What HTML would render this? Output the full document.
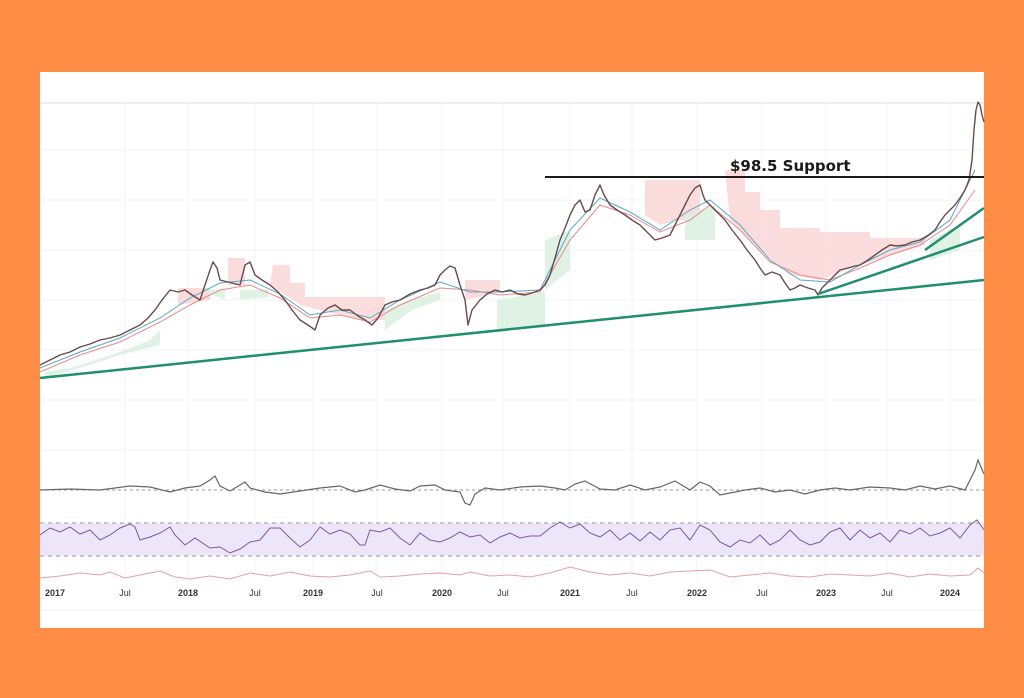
<!DOCTYPE html>
<html><head><style>
html,body{margin:0;padding:0;background:#FF8D45;}
svg{display:block}
</style></head><body>
<svg width="1024" height="698" xmlns="http://www.w3.org/2000/svg" font-family="Liberation Sans, sans-serif">
<rect width="1024" height="698" fill="#FF8D45"/>
<rect x="40" y="72" width="944" height="556" fill="#fff"/>
<line x1="40" y1="103" x2="984" y2="103" stroke="#e4e8ec" stroke-width="1.5"/>
<g stroke="#f2f3f5" stroke-width="1">
<line x1="40" y1="150" x2="984" y2="150"/><line x1="40" y1="200" x2="984" y2="200"/>
<line x1="40" y1="250" x2="984" y2="250"/><line x1="40" y1="300" x2="984" y2="300"/>
<line x1="40" y1="350" x2="984" y2="350"/><line x1="40" y1="400" x2="984" y2="400"/>
<line x1="40" y1="450" x2="984" y2="450"/>
<line x1="125" y1="103" x2="125" y2="580"/><line x1="188" y1="103" x2="188" y2="580"/>
<line x1="255" y1="103" x2="255" y2="580"/><line x1="313" y1="103" x2="313" y2="580"/>
<line x1="377" y1="103" x2="377" y2="580"/><line x1="442" y1="103" x2="442" y2="580"/>
<line x1="503" y1="103" x2="503" y2="580"/><line x1="570" y1="103" x2="570" y2="580"/>
<line x1="632" y1="103" x2="632" y2="580"/><line x1="697" y1="103" x2="697" y2="580"/>
<line x1="762" y1="103" x2="762" y2="580"/><line x1="826" y1="103" x2="826" y2="580"/>
<line x1="887" y1="103" x2="887" y2="580"/><line x1="950" y1="103" x2="950" y2="580"/>
</g>
<!-- clouds -->
<g fill="#fbd9d9" opacity="0.9">
<polygon points="178,288 210,288 210,300 178,305"/>
<polygon points="228,258 245,258 245,285 228,285"/>
<polygon points="273,265 290,265 290,283 305,283 305,297 385,297 385,320 360,320 300,305 270,285"/>
<polygon points="465,280 500,280 500,292 465,300"/>
<polygon points="645,180 700,180 700,220 680,220 660,225 645,215"/>
<polygon points="725,170 745,170 745,192 760,192 760,210 780,210 780,228 820,228 820,232 870,232 870,238 925,238 925,245 860,265 820,280 790,275 760,250 730,220"/>
</g>
<g fill="#dcf1e2" opacity="0.9">
<polygon points="45,372 70,368 90,362 120,352 150,340 160,330 160,345 120,355 80,368 45,378"/>
<polygon points="200,290 225,290 225,300 240,300 240,290 268,290 268,298 225,300"/>
<polygon points="385,310 410,300 440,292 440,300 412,310 385,330"/>
<polygon points="497,300 545,292 545,328 497,330"/>
<polygon points="545,240 570,230 570,270 545,290"/>
<polygon points="685,215 715,205 715,240 685,240"/>
<polygon points="930,240 960,225 960,250 930,260"/>
</g>
<!-- MA lines -->
<polyline fill="none" stroke="#e88a8a" stroke-width="1" points="40,372 80,355 120,342 160,322 190,305 220,290 250,285 280,298 310,318 340,315 370,322 400,305 440,288 470,290 500,295 540,292 570,240 600,205 630,215 660,232 690,220 710,205 740,230 770,262 800,275 830,280 860,268 890,255 920,245 950,225 975,190"/>
<polyline fill="none" stroke="#5aa8c8" stroke-width="1" points="40,368 80,352 120,338 160,318 190,298 220,283 250,280 280,294 310,315 340,310 370,318 400,300 440,282 470,292 500,292 540,290 570,230 600,198 630,212 660,230 690,210 710,200 740,225 770,260 800,280 830,282 860,265 890,250 920,242 950,220 975,170"/>
<!-- price -->
<polyline fill="none" stroke="#6b4a4a" stroke-width="1.4" stroke-linejoin="round" points="40,365 50,360 60,355 70,352 80,347 90,344 100,340 110,338 120,335 130,330 140,325 148,318 155,310 162,300 170,290 178,292 185,290 192,295 200,300 205,285 210,270 213,262 217,268 220,280 228,282 240,285 245,265 250,262 255,275 262,280 270,285 278,292 285,300 292,310 300,320 308,325 315,330 320,315 328,308 335,305 342,310 350,310 358,316 365,320 372,325 378,318 385,305 392,302 400,300 410,294 420,290 428,288 435,285 440,275 445,270 450,266 455,268 460,285 465,300 468,325 472,310 480,300 487,294 495,290 502,292 510,290 518,294 525,295 532,293 540,290 545,285 550,275 555,258 560,240 565,228 570,215 575,205 580,200 585,212 590,210 595,195 600,185 604,195 610,205 617,210 625,215 632,220 640,225 647,232 655,240 662,238 670,235 675,225 680,215 685,205 690,195 695,188 700,185 703,195 705,200 710,205 715,210 720,215 725,220 732,230 740,240 747,250 755,260 760,268 765,275 772,272 780,275 785,283 790,290 795,288 800,285 808,288 815,290 818,295 822,288 825,285 832,278 840,270 848,268 855,266 860,265 868,260 875,255 882,250 890,245 897,246 905,245 912,242 920,240 927,236 935,230 940,222 945,215 950,210 955,205 960,198 965,190 969,180 972,160 974,130 976,110 978,102 980,105 982,115 984,122"/>
<!-- trendlines -->
<line x1="40" y1="378" x2="984" y2="280" stroke="#1f8f6e" stroke-width="2.5"/>
<line x1="818" y1="294" x2="984" y2="237" stroke="#1f8f6e" stroke-width="2.5"/>
<line x1="925" y1="250" x2="984" y2="208" stroke="#1f8f6e" stroke-width="2.5"/>
<line x1="545" y1="177" x2="984" y2="177" stroke="#1a1a1a" stroke-width="2"/>
<text x="730" y="171" font-size="15" font-weight="bold" fill="#1a1a1a" font-family="DejaVu Sans, sans-serif">$98.5 Support</text>
<!-- oscillator -->
<line x1="40" y1="490" x2="984" y2="490" stroke="#999" stroke-width="1" stroke-dasharray="3,3"/>
<polyline fill="none" stroke="#666" stroke-width="1.2" points="40,490 70,489 100,490 130,486 150,487 170,492 185,488 200,486 210,480 215,476 220,486 230,491 240,485 245,482 250,488 265,492 280,494 300,491 320,488 340,486 355,492 365,490 380,485 395,489 410,491 420,486 435,485 445,490 460,492 465,503 470,505 475,494 485,488 500,490 520,487 540,486 555,488 565,490 575,484 585,481 600,489 615,490 630,485 645,490 660,487 675,481 690,490 700,482 710,486 720,495 730,493 745,490 760,488 775,492 790,490 805,494 820,490 835,488 850,490 870,487 890,488 905,490 920,486 935,489 950,486 965,490 975,470 978,460 984,474"/>
<!-- RSI -->
<rect x="40" y="523" width="944" height="33" fill="#ece6f8"/>
<line x1="40" y1="523" x2="984" y2="523" stroke="#999" stroke-dasharray="4,4"/>
<line x1="40" y1="556" x2="984" y2="556" stroke="#999" stroke-dasharray="4,4"/>
<polyline fill="none" stroke="#7a5aa8" stroke-width="1" points="40,535 50,528 60,532 70,527 80,534 90,530 100,540 110,535 120,528 130,524 135,527 140,540 150,537 160,533 170,527 175,535 185,545 195,538 210,548 220,547 230,553 240,549 250,542 260,540 270,528 280,528 290,538 300,547 310,540 320,527 330,534 340,530 350,534 360,545 365,545 370,530 380,532 390,528 400,538 410,545 420,533 430,540 440,542 450,538 460,532 470,537 480,535 490,543 500,537 510,533 520,538 530,536 540,536 550,528 560,522 570,528 580,524 590,533 600,537 610,530 620,540 630,533 640,541 650,532 660,540 670,530 680,528 690,540 700,525 710,530 720,542 730,547 740,540 750,543 760,535 770,545 780,540 790,530 800,540 810,545 820,542 830,532 840,528 850,540 860,530 870,538 880,533 890,542 900,530 910,534 920,528 930,536 940,533 950,528 960,538 970,525 977,520 984,530"/>
<polyline fill="none" stroke="#e8a0a0" stroke-width="1" points="40,578 60,576 80,573 100,575 110,572 125,578 140,575 160,571 175,577 190,579 210,576 230,579 250,573 270,576 290,572 310,576 330,577 350,575 370,571 380,577 400,576 420,574 440,573 460,575 470,572 490,576 510,575 530,577 550,573 570,567 590,572 610,575 630,573 650,576 670,572 690,571 710,570 730,577 750,575 770,573 790,576 810,577 830,574 850,575 870,576 890,573 910,577 930,574 950,576 970,575 978,568 984,573"/>
<line x1="40" y1="610" x2="984" y2="610" stroke="#eef0f2"/>
<g font-size="9" fill="#333" text-anchor="middle" font-weight="bold">
<text x="55" y="596">2017</text><text x="125" y="596" font-weight="normal">Jul</text>
<text x="188" y="596">2018</text><text x="255" y="596" font-weight="normal">Jul</text>
<text x="313" y="596">2019</text><text x="377" y="596" font-weight="normal">Jul</text>
<text x="442" y="596">2020</text><text x="503" y="596" font-weight="normal">Jul</text>
<text x="570" y="596">2021</text><text x="632" y="596" font-weight="normal">Jul</text>
<text x="697" y="596">2022</text><text x="762" y="596" font-weight="normal">Jul</text>
<text x="826" y="596">2023</text><text x="887" y="596" font-weight="normal">Jul</text>
<text x="950" y="596">2024</text>
</g>
</svg>
</body></html>
